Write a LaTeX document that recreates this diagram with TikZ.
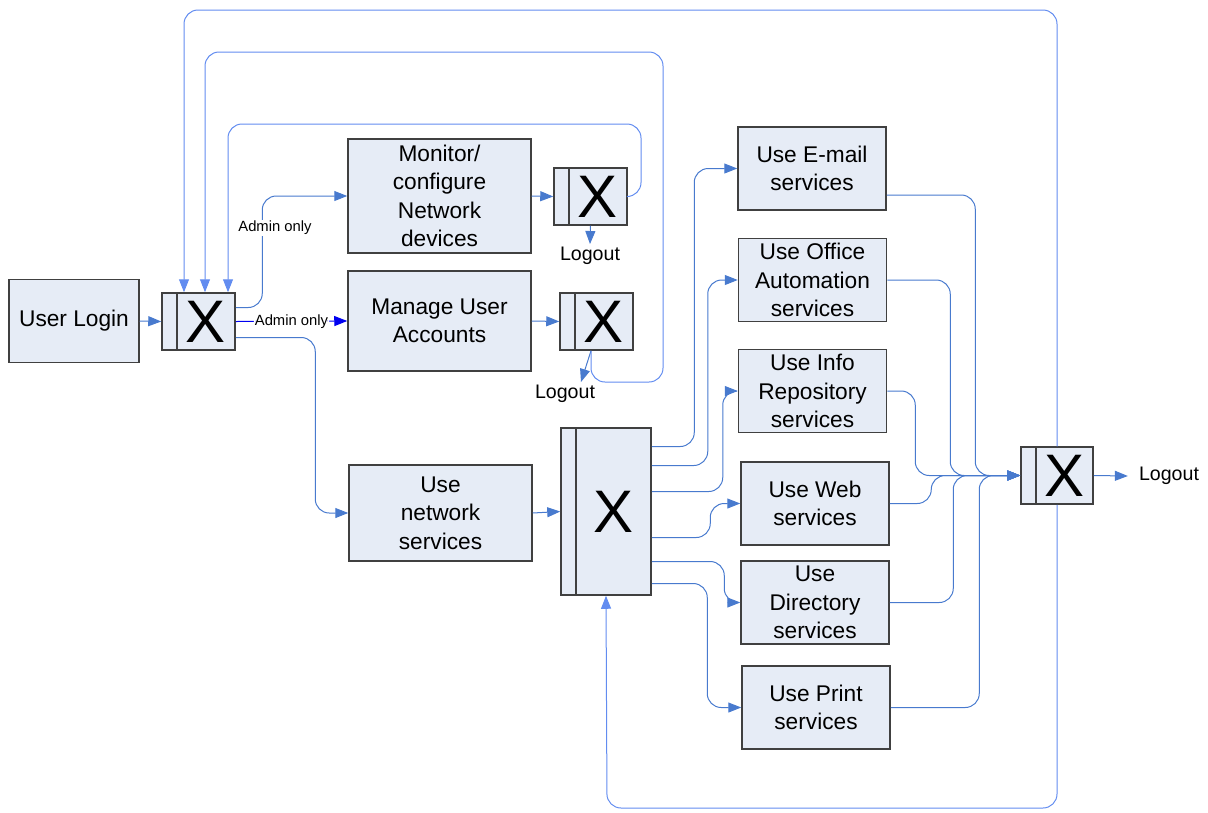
\documentclass[tikz,border=0pt]{standalone}
\usepackage{fontspec}
\setmainfont{Liberation Sans}
\usetikzlibrary{arrows.meta,calc}
\definecolor{cBox}  {RGB}{230,236,246}
\definecolor{cEdge} {RGB}{64,64,64}
\definecolor{cFlow} {RGB}{72,122,206}
\definecolor{cBack} {RGB}{98,140,240}
\definecolor{cAdmin}{RGB}{0,0,240}
\tikzset{
  >={Triangle[length=13pt,width=10pt]},
  box/.style={draw=cEdge,fill=cBox,line width=1.5pt,inner sep=0pt,align=center,
              font=\fontsize{22.7}{28.5}\selectfont},
  junc/.style={draw=cEdge,fill=cBox,line width=1.5pt,inner sep=0pt,
               font=\fontsize{60}{60}\selectfont,
               path picture={\draw[cEdge,line width=1.5pt]
                 ([xshift=15pt]path picture bounding box.north west) --
                 ([xshift=15pt]path picture bounding box.south west);}}, % split bar
  svc/.style={box,minimum width=148pt,minimum height=83pt},
  flow/.style={->,cFlow,line width=1pt,rounded corners=14pt},
  back/.style={flow,draw=cBack},                                    % return loops
  note/.style={font=\fontsize{14.8}{16}\selectfont,inner sep=1pt,fill=white,text=black},
  exit/.style={font=\fontsize{19.6}{22}\selectfont,inner sep=3pt},
}
\begin{document}
\begin{tikzpicture}[x=1pt,y=-1pt]
  \useasboundingbox (0,0) rectangle (1208,812);
  % login and admin branch
  \node[box,minimum width=130pt,minimum height=83pt] (login) at (74,321) {User Login};
  \node[junc,minimum width=73pt,minimum height=57pt] (j1) at (198.5,321.5) {\hspace*{15pt}X};
  \node[box,minimum width=183pt,minimum height=114pt] (mon) at (439.5,196)
    {Monitor/\\configure\\Network\\devices};
  \node[junc,minimum width=73pt,minimum height=57pt] (j2) at (590.5,196.5) {\hspace*{15pt}X};
  \node[exit] (lo1) at (590,256) {Logout};
  \node[box,minimum width=183pt,minimum height=100pt] (man) at (439.5,321) {Manage User\\Accounts};
  \node[junc,minimum width=73pt,minimum height=57pt] (j3) at (596.5,321.5) {\hspace*{15pt}X};
  \node[exit] (lo2) at (565,394) {Logout};
  % user branch
  \node[box,minimum width=183pt,minimum height=96pt] (net) at (440.5,513) {Use\\network\\services};
  \node[junc,minimum width=90pt,minimum height=167pt] (j5) at (606,511.5) {\hspace*{15pt}X};
  \node[svc] (mail)   at (812,168.5) {Use E-mail\\services};
  \node[svc] (office) at (812.5,280) {Use Office\\Automation\\services};
  \node[svc] (info)   at (812.5,391) {Use Info\\Repository\\services};
  \node[svc] (web)    at (815,503.5) {Use Web\\services};
  \node[svc] (dir)    at (815,602.5) {Use\\Directory\\services};
  \node[svc] (print)  at (816,707.5) {Use Print\\services};
  \node[junc,minimum width=72pt,minimum height=57pt] (j4) at (1057,475.5) {\hspace*{15pt}X};
  \node[exit] (lo3) at (1169,476) {Logout};

  \draw[flow] (login.east) -- (j1.west);
  \draw[flow] ($(j1.east)+(0,-14)$) -| ($(mon.west)+(-85,0)$) -- (mon.west);
  \node[note] (adm1) at (275,228) {Admin only};
  \draw[flow,draw=cAdmin] (j1.east) -- node[note] (adm2) {Admin only} (man.west);
  \draw[flow] ($(j1.east)+(0,16)$) -| ($(net.west)+(-33,0)$) -- (net.west);

  \draw[flow] (mon.east) -- (j2.west);
  \draw[flow] (j2.south) -- (lo1.north);
  \draw[back] (j2.east) -| (641,124) -| ($(j1.north)+(29.5,0)$);
  \draw[flow] (man.east) -- (j3.west);
  \draw[flow] ($(j3.south)+(-5.5,0)$) -- ($(lo2.north)+(16,0)$);
  \draw[back] ($(j3.south)+(-5.5,0)$) |- (663,382) |- (205,52) -- ($(j1.north)+(6.5,0)$);

  \draw[flow] (net.east) -- (j5.west);
  \draw[flow] ($(j5.east)+(0,-65)$) -| ($(mail.west)+(-43,0)$) -- (mail.west);
  \draw[flow] ($(j5.east)+(0,-46)$) -| ($(office.west)+(-30,0)$) -- (office.west);
  \draw[flow] ($(j5.east)+(0,-20)$) -| ($(info.west)+(-15,0)$) -- (info.west);
  \draw[flow] ($(j5.east)+(0,26)$) -| ($(web.west)+(-30,0)$) -- (web.west);
  \draw[flow] ($(j5.east)+(0,50)$) -| ($(dir.west)+(-16,0)$) -- (dir.west);
  \draw[flow] ($(j5.east)+(0,72)$) -| ($(print.west)+(-34,0)$) -- (print.west);

  % into the end junction
  \draw[flow] ($(mail.east)+(0,26.5)$) -| ($(j4.west)+(-45,0)$) -- (j4.west);
  \draw[flow] (office.east) -| ($(j4.west)+(-70,0)$) -- (j4.west);
  \draw[flow] (info.east) -| ($(j4.west)+(-105,0)$) -- (j4.west);
  \draw[flow] (web.east) -| ($(j4.west)+(-89,0)$) -- (j4.west);
  \draw[flow] (dir.east) -| ($(j4.west)+(-67,0)$) -- (j4.west);
  \draw[flow] (print.east) -| ($(j4.west)+(-41,0)$) -- (j4.west);

  \draw[flow] (j4.east) -- ($(lo3.west)+(-8,0)$);
  \draw[back] (j4.north) |- (184,10) -- ($(j1.north)+(-14.5,0)$);
  \draw[back] (j4.south) |- (607,808) -- (j5.south);
\end{tikzpicture}
\end{document}
